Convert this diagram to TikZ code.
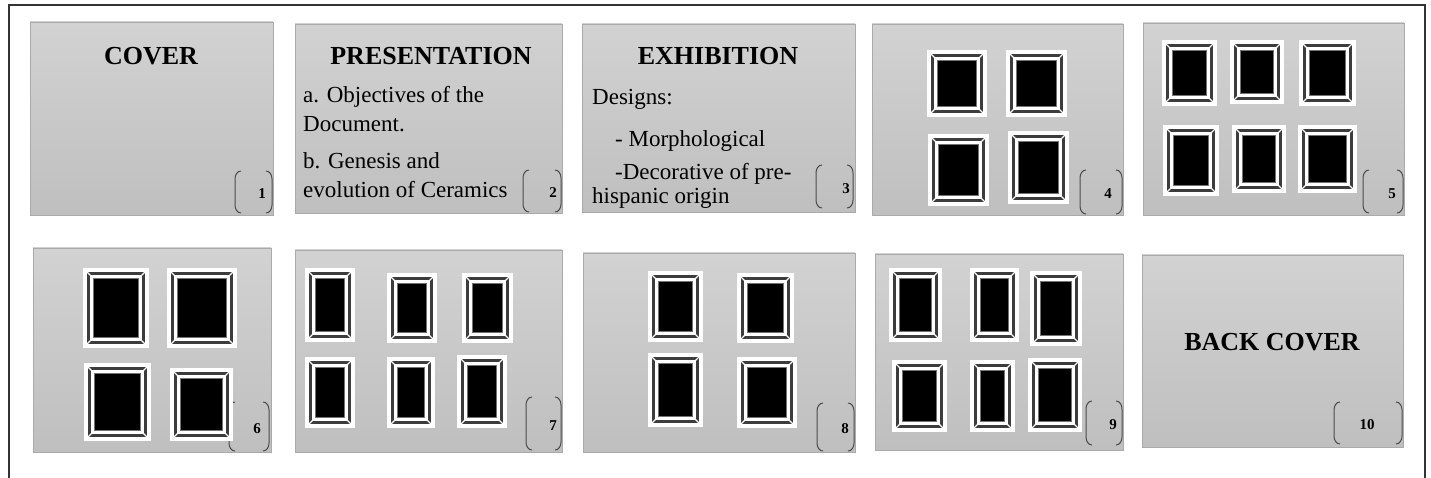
\documentclass[tikz,border=0pt]{standalone}
\usepackage{fontspec}
\setmainfont{Liberation Serif}
\usepackage{tikz}
\definecolor{paneltop}{RGB}{210,210,210}
\definecolor{panelbot}{RGB}{191,191,191}
\definecolor{paneledge}{RGB}{170,170,170}
\definecolor{bargray}{RGB}{60,60,60}
\definecolor{tagline}{RGB}{75,75,75}
% one framed picture: x1 y1 x2 y2
\newcommand{\photoframe}[4]{%
  \fill[white] (#1,#2) rectangle (#3,#4);
  \draw[bargray,line width=2.5pt] (#1+5.5,#2+5.5) rectangle (#3-5.5,#4-5.5);
  \draw[white,line width=1.3pt] (#1+2,#2+2) -- (#1+9,#2+9) (#3-2,#2+2) -- (#3-9,#2+9)
    (#1+2,#4-2) -- (#1+9,#4-9) (#3-2,#4-2) -- (#3-9,#4-9);
  \filldraw[fill=black,draw=black!55,line width=0.8pt] (#1+10.5,#2+10.5) rectangle (#3-10.5,#4-10.5);
}
% page number in brackets: name x1 y1 x2 y2 numx num
\newcommand{\pagetag}[7]{%
  \draw[tagline,line width=1pt] (#2+6,#3) to[out=180,in=90] (#2,#3+8) -- (#2,#5-8) to[out=-90,in=180] (#2+6,#5);
  \draw[tagline,line width=1pt] (#4-6,#3) to[out=0,in=90] (#4,#3+8) -- (#4,#5-8) to[out=-90,in=0] (#4-6,#5);
  \node[tagnum] (#1) at (#6,{(#3+#5)/2+2}) {#7};
}

\begin{document}
\begin{tikzpicture}[x=1pt,y=-1pt,
panel/.style={draw=paneledge,line width=0.8pt,top color=paneltop,bottom color=panelbot,inner sep=0pt,outer sep=0pt},
title/.style={font=\fontsize{26}{30}\selectfont\bfseries,inner sep=0pt,anchor=base},
body/.style={font=\fontsize{23}{29}\selectfont,inner sep=0pt,anchor=base west},
tagnum/.style={font=\fontsize{15}{15}\selectfont\bfseries,inner sep=0pt}
]
\useasboundingbox (0,0) rectangle (1431,478);
\draw[black!80,line width=2.2pt] (9,478) -- (9,5) -- (1425,5) -- (1425,478);

% first row
\node[panel,minimum width=243pt,minimum height=193pt] (p1) at (151.5,118.5) {};
\node[panel,minimum width=267pt,minimum height=189pt] (p2) at (428.5,118.5) {};
\node[panel,minimum width=273pt,minimum height=188pt] (p3) at (718.5,118) {};
\node[panel,minimum width=251pt,minimum height=191pt] (p4) at (997.5,119.5) {};
\node[panel,minimum width=261pt,minimum height=192pt] (p5) at (1273.5,119) {};
% second row
\node[panel,minimum width=238pt,minimum height=204pt] (p6) at (152,350) {};
\node[panel,minimum width=267pt,minimum height=202pt] (p7) at (428.5,351) {};
\node[panel,minimum width=272pt,minimum height=199pt] (p8) at (719,352.5) {};
\node[panel,minimum width=248pt,minimum height=196pt] (p9) at (999,352) {};
\node[panel,minimum width=261pt,minimum height=192pt] (p10) at (1272.5,351) {};

\node[title] (cover) at (151,65) {COVER};
\node[title] (pres) at (431,65) {PRESENTATION};
\node[title] (exhib) at (718,65) {EXHIBITION};
\node[title] (back) at (1272,350) {BACK COVER};

\node[body] (pa1) at (303,103) {a. Objectives of the};
\node[body] (pa2) at (303,132) {Document.};
\node[body] (pb1) at (303,169) {b. Genesis and};
\node[body] (pb2) at (303,198) {evolution of Ceramics};
\node[body] (ex1) at (592,105) {Designs:};
\node[body] (ex2) at (615,147) {- Morphological};
\node[body] (ex3) at (615,180) {-Decorative of pre-};
\node[body] (ex4) at (592,204) {hispanic origin};

\pagetag{n1}{235}{171}{272}{213}{262}{1}
\pagetag{n2}{523}{170}{561}{212}{553}{2}
\pagetag{n3}{816}{165}{853}{208}{846}{3}
\pagetag{n4}{1080}{170}{1122}{214}{1108}{4}
\pagetag{n5}{1363}{170}{1403}{213}{1392}{5}
\pagetag{n6}{229}{402}{269}{451}{257}{6}
\pagetag{n7}{526}{397}{561}{450}{553}{7}
\pagetag{n8}{817}{403}{854}{451}{845}{8}
\pagetag{n9}{1086}{401}{1122}{445}{1113}{9}
\pagetag{n10}{1334}{402}{1402}{444}{1367}{10}

% framed pictures
\foreach \xa/\ya/\xb/\yb in {927/50/987/117, 1006/50/1067/117, 928/134/989/206, 1008/131/1069/204,
  1162/40/1217/106, 1230/40/1284/104, 1299/40/1356/106, 1163/125/1219/196, 1232/125/1286/193, 1298/125/1357/193,
  83/268/149/348, 167/268/237/348, 84/363/151/441, 170/368/233/441,
  305/268/355/342, 387/273/437/343, 462/273/513/343, 305/357/355/428, 387/357/435/428, 457/355/507/428,
  648/271/703/342, 737/273/794/343, 648/353/703/427, 737/357/797/428,
  889/268/942/342, 970/268/1019/342, 1030/271/1082/346, 892/360/947/432, 970/360/1015/432, 1028/358/1082/432}
  {\photoframe{\xa}{\ya}{\xb}{\yb}}
\end{tikzpicture}
\end{document}
